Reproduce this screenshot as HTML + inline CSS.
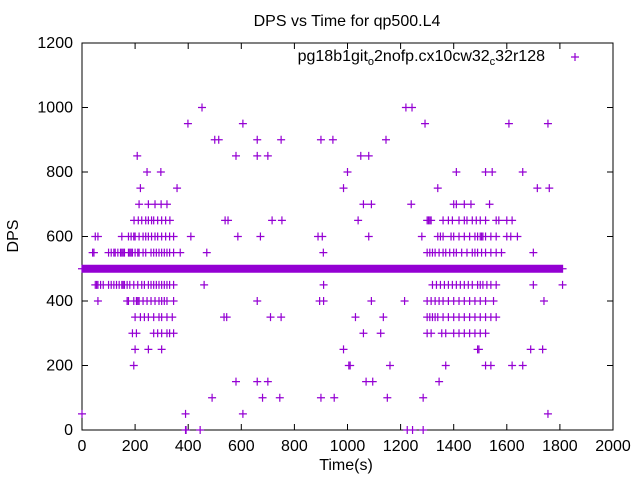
<!DOCTYPE html>
<html><head><meta charset="utf-8"><style>
body{margin:0;background:#fff}
svg text{font-family:"Liberation Sans",sans-serif;font-size:16px;fill:#000}
</style></head><body>
<svg width="640" height="480" viewBox="0 0 640 480" id="chart">
<text x="347" y="26" text-anchor="middle">DPS vs Time for qp500.L4</text>
<text x="346" y="470" text-anchor="middle">Time(s)</text>
<text transform="translate(18,236) rotate(-90)" text-anchor="middle">DPS</text>
<text x="545" y="61" text-anchor="end">pg18b1git<tspan font-size="11" dy="4">o</tspan><tspan dy="-4">2nofp.cx10cw32</tspan><tspan font-size="11" dy="4">c</tspan><tspan dy="-4">32r128</tspan></text>
<path d="M571 57h8M575 53v8" stroke="#9400d3" stroke-width="1.2"/>
<g id="axes"></g>
<g id="marks"></g>
</svg>
<script>
const xTicks=[0,200,400,600,800,1000,1200,1400,1600,1800,2000];
const yTicks=[0,200,400,600,800,1000,1200];
const baselineRuns=[[0,1810]];
const baselineValue=500;
const times=[452,1220,1243, 399,606,1292,1608,1755, 500,515,660,750,900,945,1145, 208,580,660,700,1050,1080, 245,297,1000,1410,1520,1545,1660, 220,358,985,1340,1715,1760,
215,250,275,298,320,1060,1090,1240,1400,1410,1440,1465,1535,
196,212,225,240,250,262,270,285,300,315,331,539,550,716,753,1040,1300,1305,1310,1315,1360,1380,1395,1420,1440,1450,1470,1485,1500,1520,1560,1570,1600,1620,
50,60,150,175,185,195,200,215,230,240,250,262,275,285,300,315,330,345,410,587,672,889,905,1080,1280,1340,1350,1360,1390,1400,1420,1440,1460,1480,1490,1500,1505,1510,1520,1540,1560,1600,1615,1640,
40,45,100,110,120,125,135,145,150,155,160,175,180,185,190,200,210,215,230,240,260,270,280,290,300,310,320,330,345,370,470,909,1300,1310,1320,1330,1345,1360,1370,1385,1400,1410,1430,1450,1470,1480,1490,1505,1520,1540,1560,1580,1700,
50,55,60,70,80,100,110,120,130,140,150,155,160,170,180,195,210,225,235,250,260,270,280,290,300,310,320,330,345,460,910,1320,1335,1350,1365,1380,1395,1410,1425,1440,1455,1470,1490,1500,1510,1525,1540,1560,1700,1810,
60,170,175,195,205,210,215,230,245,260,275,290,300,310,320,345,660,895,910,1090,1215,1300,1315,1330,1345,1360,1380,1400,1420,1440,1460,1480,1500,1520,1550,1740,
200,220,235,250,270,290,300,320,340,535,545,710,750,1030,1135,1300,1310,1320,1330,1340,1360,1380,1400,1420,1440,1460,1480,1500,1520,1540,1560,
190,205,270,285,300,320,330,345,1060,1125,1300,1315,1355,1370,1400,1420,1440,1460,1480,1500,1520,
200,250,300,985,1490,1495,1690,1735,
195,1005,1010,1160,1370,1520,1540,1620,1660,
580,660,700,1070,1095,1345,
490,680,745,900,950,1150,1285,
390,606,1755,
0,390,392,445,1225,1245,1285];
const dps=[1000,1000,1000, 950,950,950,950,950, 900,900,900,900,900,900,900, 850,850,850,850,850,850, 800,800,800,800,800,800,800, 750,750,750,750,750,750,
700,700,700,700,700,700,700,700,700,700,700,700,700,
650,650,650,650,650,650,650,650,650,650,650,650,650,650,650,650,650,650,650,650,650,650,650,650,650,650,650,650,650,650,650,650,650,650,
600,600,600,600,600,600,600,600,600,600,600,600,600,600,600,600,600,600,600,600,600,600,600,600,600,600,600,600,600,600,600,600,600,600,600,600,600,600,600,600,600,600,600,600,
550,550,550,550,550,550,550,550,550,550,550,550,550,550,550,550,550,550,550,550,550,550,550,550,550,550,550,550,550,550,550,550,550,550,550,550,550,550,550,550,550,550,550,550,550,550,550,550,550,550,550,550,550,
450,450,450,450,450,450,450,450,450,450,450,450,450,450,450,450,450,450,450,450,450,450,450,450,450,450,450,450,450,450,450,450,450,450,450,450,450,450,450,450,450,450,450,450,450,450,450,450,450,450,
400,400,400,400,400,400,400,400,400,400,400,400,400,400,400,400,400,400,400,400,400,400,400,400,400,400,400,400,400,400,400,400,400,400,400,400,
350,350,350,350,350,350,350,350,350,350,350,350,350,350,350,350,350,350,350,350,350,350,350,350,350,350,350,350,350,350,350,
300,300,300,300,300,300,300,300,300,300,300,300,300,300,300,300,300,300,300,300,300,
250,250,250,250,250,250,250,250,
200,200,200,200,200,200,200,200,200,
150,150,150,150,150,150,
100,100,100,100,100,100,100,
50,50,50,
50,0,0,0,0,0,0];
const X0=82,X1=613,Y0=430,Y1=43;
const sx=t=>X0+(t/2000)*(X1-X0);
const sy=v=>Y0-(v/1200)*(Y0-Y1);
const NS='http://www.w3.org/2000/svg';
const axes=document.getElementById('axes');
const marks=document.getElementById('marks');
let ad=`M${X0} ${Y1}H${X1}V${Y0}H${X0}Z`;
xTicks.forEach(t=>{const x=sx(t);ad+=`M${x} ${Y0}v-6M${x} ${Y1}v6`;
 const tx=document.createElementNS(NS,'text');tx.setAttribute('x',x);tx.setAttribute('y',Y0+21);tx.setAttribute('text-anchor','middle');tx.textContent=t;
 
 
 axes.appendChild(tx);});
yTicks.forEach(v=>{const y=sy(v);ad+=`M${X0} ${y}h6M${X1} ${y}h-6`;
 const tx=document.createElementNS(NS,'text');tx.setAttribute('x',X0-9);tx.setAttribute('y',y+5);tx.setAttribute('text-anchor','end');tx.textContent=v;
 
 
 axes.appendChild(tx);});
const ap=document.createElementNS(NS,'path');ap.setAttribute('d',ad);ap.setAttribute('stroke','#000');ap.setAttribute('fill','none');ap.setAttribute('stroke-width','1');


axes.appendChild(ap);
let md='';
const cross=(t,v)=>{const x=sx(t),y=sy(v);md+=`M${x-4} ${y}h8M${x} ${y-4}v8`;};
baselineRuns.forEach(r=>{for(let t=r[0];t<=r[1];t+=2)cross(t,baselineValue);});
times.forEach((t,i)=>cross(t,dps[i]));
const mp=document.createElementNS(NS,'path');mp.setAttribute('d',md);mp.setAttribute('stroke','#9400d3');mp.setAttribute('stroke-width','1.2');mp.setAttribute('fill','none');


marks.appendChild(mp);
</script>
</body></html>
